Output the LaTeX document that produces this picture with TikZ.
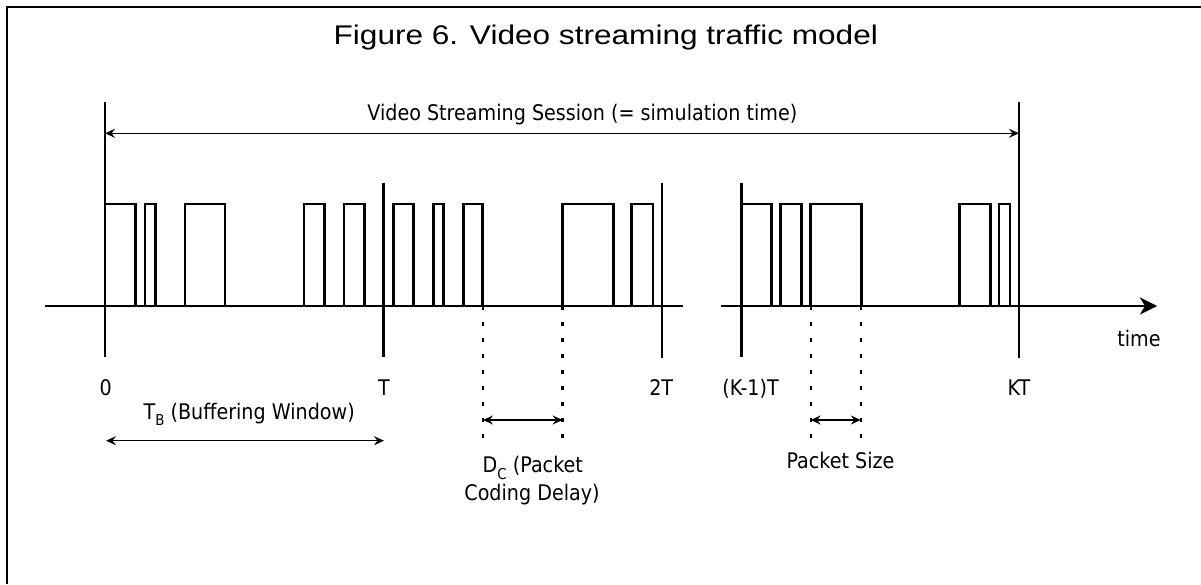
\documentclass[tikz,border=0pt]{standalone}
\usepackage{fontspec}
\setmainfont{DejaVu Sans}[FakeStretch=0.89]
\newfontfamily\titlefont{Liberation Sans}[FakeStretch=1.17]
\newcommand{\mysub}[1]{\raisebox{-0.3em}{\fontsize{15}{15}\selectfont #1}}
\usetikzlibrary{arrows.meta}
\begin{document}
\begin{tikzpicture}[x=1pt,y=-1pt,
  frame/.style={line width=2.2pt},
  axisline/.style={line width=2.8pt},
  pulse/.style={line width=2.5pt},
  marker/.style={line width=2.5pt},
  dimarrow/.style={line width=1.5pt,{Stealth[length=10pt,width=9pt,inset=3.5pt]}-{Stealth[length=10pt,width=9pt,inset=3.5pt]}},
  dotline/.style={line width=2.4pt,dash pattern=on 4pt off 12pt},
  lbl/.style={font=\fontsize{21.5}{26}\selectfont,inner sep=0pt,anchor=base},
  ttl/.style={font=\titlefont\fontsize{27}{32}\selectfont,inner sep=0pt,anchor=base}]
\useasboundingbox (0,0) rectangle (1201,584);
% frame
\draw[frame] (6.7,584) -- (6.7,6.7) -- (1201,6.7);
% title
\node[ttl] (title) at (605.8,44) {Figure 6. Video streaming traffic model};
% axis
\coordinate (ax0) at (45,306);
\coordinate (ax1) at (682.7,306);
\coordinate (ax2) at (720.5,306);
\coordinate (ax3) at (1157,306);
\draw[axisline] (ax0) -- (ax1);
\draw[axisline,-{Stealth[length=17pt,width=17pt,inset=5pt]}] (ax2) -- (ax3);
\node[lbl] (time) at (1139,346.7) {time};
% pulses
\foreach \a/\b in {105/135.7,145/155.7,185/225,304/324.3,344/364.3,393.3/413.3,433.3/443.3,463.3/482.7,562.6/613.4,631.4/652.8,741.6/771.5,780.6/801.3,810.5/861.4,959.7/990.4,999.2/1009.9}
  \draw[pulse] (\a,306) -- (\a,204) -- (\b,204) -- (\b,306);
% long markers
\coordinate (m0top) at (105,101.7);
\coordinate (m0bot) at (105,356.7);
\coordinate (mKtop) at (1019,101.7);
\coordinate (mKbot) at (1019,357.5);
\draw[marker] (m0top) -- (m0bot);
\draw[marker] (mKtop) -- (mKbot);
% short markers
\coordinate (mTtop) at (383.5,182.7);
\coordinate (mTbot) at (383.5,356.7);
\coordinate (m2top) at (662,182.7);
\coordinate (m2bot) at (662,357.5);
\coordinate (mK1top) at (741.6,182.7);
\coordinate (mK1bot) at (741.6,356.7);
\draw[marker] (mTtop) -- (mTbot);
\draw[marker] (m2top) -- (m2bot);
\draw[marker] (mK1top) -- (mK1bot);
% session arrow
\coordinate (s0) at (105,133.3);
\coordinate (s1) at (1019,133.3);
\draw[dimarrow] (s0) -- (s1);
\node[lbl] (session) at (582.3,120) {Video Streaming Session (= simulation time)};
% tick labels
\node[lbl] (l0) at (105.6,395) {0};
\node[lbl] (lT) at (384,395) {T};
\node[lbl] (l2T) at (661.2,395) {2T};
\node[lbl] (lK1) at (750.6,395) {(K-1)T};
\node[lbl] (lKT) at (1018.9,395) {KT};
% buffering window
\coordinate (b0) at (106,440.7);
\coordinate (b1) at (384,440.7);
\draw[dimarrow] (b0) -- (b1);
\node[lbl] (tb) at (249.2,419.3) {T\mysub{B} (Buffering Window)};
% coding delay
\coordinate (d0t) at (483,306);
\coordinate (d0b) at (483,442);
\coordinate (d1t) at (562.6,306);
\coordinate (d1b) at (562.6,442);
\draw[dotline] (d0t) -- (d0b);
\draw[dotline] (d1t) -- (d1b);
\coordinate (da) at (483,420);
\coordinate (db) at (562.6,420);
\draw[dimarrow] (da) -- (db);
\node[lbl] (dc1) at (532.8,472.7) {D\mysub{C} (Packet};
\node[lbl] (dc2) at (532,500) {Coding Delay)};
% packet size
\coordinate (p0t) at (810.7,306);
\coordinate (p0b) at (810.7,442);
\coordinate (p1t) at (860.8,306);
\coordinate (p1b) at (860.8,442);
\draw[dotline] (p0t) -- (p0b);
\draw[dotline] (p1t) -- (p1b);
\coordinate (pa) at (810.7,420);
\coordinate (pb) at (860.8,420);
\draw[dimarrow] (pa) -- (pb);
\node[lbl] (ps) at (840.5,468.3) {Packet Size};
\end{tikzpicture}
\end{document}
